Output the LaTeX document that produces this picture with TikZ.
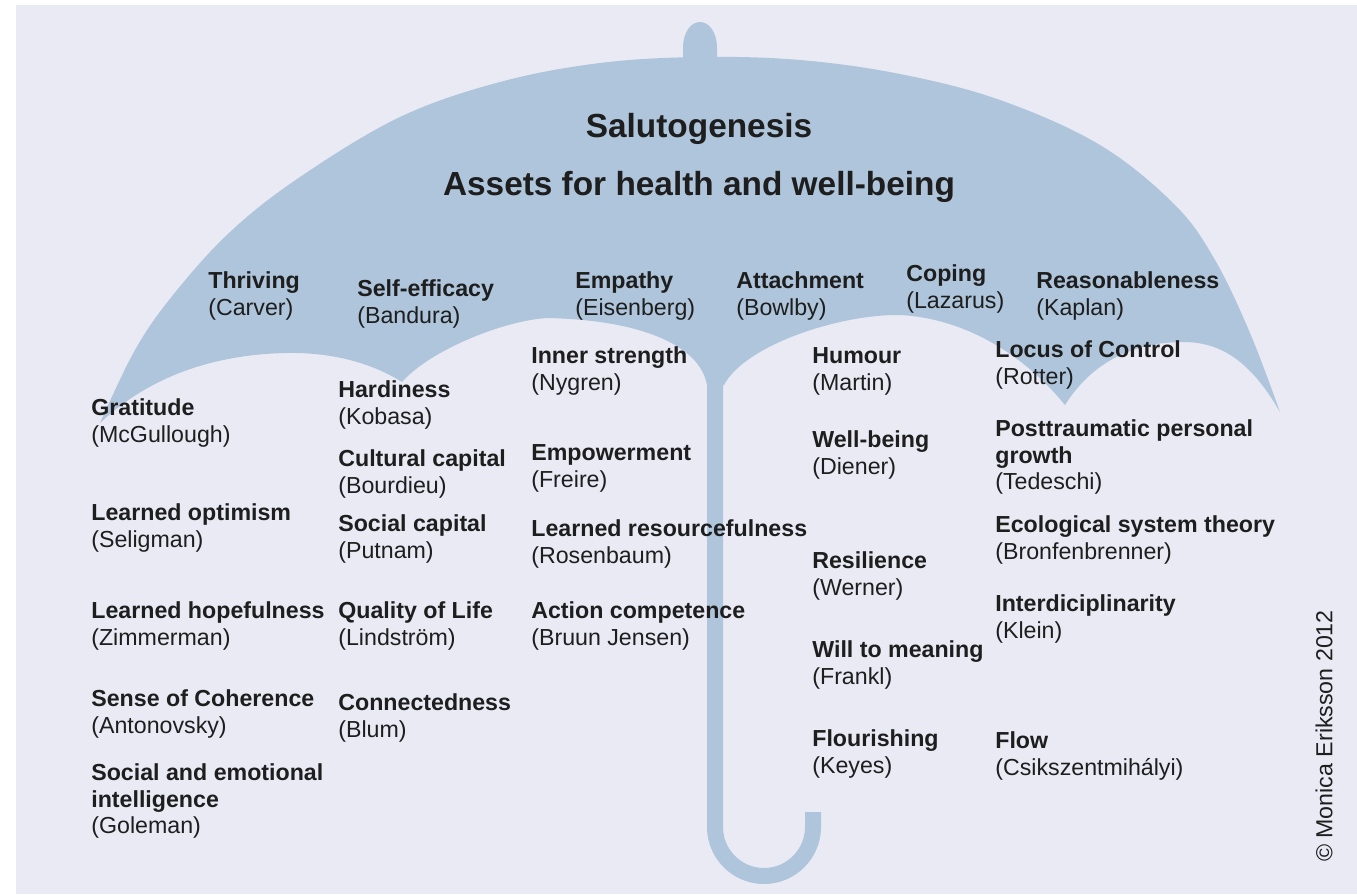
\documentclass[tikz,border=0pt]{standalone}
\usepackage{fontspec}
\setmainfont{Liberation Sans}
\usepackage{tikz}
\definecolor{backcol}{HTML}{E9EAF4}
\definecolor{umbcol}{HTML}{AEC5DB}
\definecolor{textcol}{HTML}{1E1E1E}

\begin{document}
\begin{tikzpicture}[x=0.02cm, y=-0.02cm,
    asset/.style={anchor=north west, inner sep=0pt, align=left, text=textcol,
      font=\fontsize{13.2}{15.3}\selectfont},
    title/.style={anchor=base, inner sep=0pt, text=textcol,
      font=\fontsize{19}{22}\selectfont\bfseries}]
    % Draw the background
    \useasboundingbox (0,0) rectangle (1357,894);
    \fill[backcol] (16,5) rectangle (1357,894);
    % Draw the canopy
    \fill[umbcol]
      plot[smooth, tension=0.6] coordinates {(100,423) (135,350) (173,295)
        (230,232) (300,177) (400,117) (500,82) (600,63) (700,57) (800,60)
        (900,74) (1000,100) (1100,145) (1175,205) (1215,260) (1250,333) (1280,412)}
      .. controls (1250,360) and (1220,342) .. (1183,342)
      .. controls (1130,342) and (1090,365) .. (1065,405)
      .. controls (1020,350) and (960,318) .. (900,315)
      .. controls (840,314) and (745,345) .. (724,385)
      -- (707,385)
      .. controls (700,345) and (640,320) .. (548,318)
      .. controls (505,320) and (430,350) .. (402,382)
      .. controls (370,362) and (330,352) .. (285,353)
      .. controls (200,355) and (140,385) .. (100,423) -- cycle;
    % Draw the tip on top
    \fill[umbcol] (683,64) -- (683,48) .. controls (683,32) and (691,22) .. (700,22)
      .. controls (709,22) and (717,32) .. (717,48) -- (717,64) -- cycle;
    % Draw the handle
    \draw[umbcol, line width=16*0.02cm] (715,330) -- (715,827)
      .. controls (715,854) and (737,876) .. (764,876)
      .. controls (791,876) and (813,854) .. (813,827) -- (813,812);
    % Titles
    \node[title] (salut) at (699,137) {Salutogenesis};
    \node[title] (assets) at (699,195) {Assets for health and well-being};
    % Assets under the canopy
    \node[asset] (thriving) at (208,271) {\textbf{Thriving}\\(Carver)};
    \node[asset] (selfeff) at (357,279) {\textbf{Self-efficacy}\\(Bandura)};
    \node[asset] (empathy) at (575,271) {\textbf{Empathy}\\(Eisenberg)};
    \node[asset] (attach) at (736,271) {\textbf{Attachment}\\(Bowlby)};
    \node[asset] (coping) at (906,264) {\textbf{Coping}\\(Lazarus)};
    \node[asset] (reason) at (1036,271) {\textbf{Reasonableness}\\(Kaplan)};
    % First column
    \node[asset] (gratitude) at (91,398) {\textbf{Gratitude}\\(McGullough)};
    \node[asset] (optimism) at (91,503) {\textbf{Learned optimism}\\(Seligman)};
    \node[asset] (hopeful) at (91,601) {\textbf{Learned hopefulness}\\(Zimmerman)};
    \node[asset] (soc) at (91,689) {\textbf{Sense of Coherence}\\(Antonovsky)};
    \node[asset] (emotional) at (91,763) {\textbf{Social and emotional}\\\textbf{intelligence}\\(Goleman)};
    % Second column
    \node[asset] (hardiness) at (338,380) {\textbf{Hardiness}\\(Kobasa)};
    \node[asset] (cultural) at (338,449) {\textbf{Cultural capital}\\(Bourdieu)};
    \node[asset] (social) at (338,514) {\textbf{Social capital}\\(Putnam)};
    \node[asset] (quality) at (338,601) {\textbf{Quality of Life}\\(Lindström)};
    \node[asset] (connected) at (338,693) {\textbf{Connectedness}\\(Blum)};
    % Third column
    \node[asset] (inner) at (531,346) {\textbf{Inner strength}\\(Nygren)};
    \node[asset] (empower) at (531,444) {\textbf{Empowerment}\\(Freire)};
    \node[asset] (resource) at (531,519) {\textbf{Learned resourcefulness}\\(Rosenbaum)};
    \node[asset] (action) at (531,601) {\textbf{Action competence}\\(Bruun Jensen)};
    % Fourth column
    \node[asset] (humour) at (812,347) {\textbf{Humour}\\(Martin)};
    \node[asset] (wellbeing) at (812,430) {\textbf{Well-being}\\(Diener)};
    \node[asset] (resilience) at (812,551) {\textbf{Resilience}\\(Werner)};
    \node[asset] (meaning) at (812,640) {\textbf{Will to meaning}\\(Frankl)};
    \node[asset] (flourish) at (812,729) {\textbf{Flourishing}\\(Keyes)};
    % Fifth column
    \node[asset] (locus) at (995,340) {\textbf{Locus of Control}\\(Rotter)};
    \node[asset] (posttrauma) at (995,419) {\textbf{Posttraumatic personal}\\\textbf{growth}\\(Tedeschi)};
    \node[asset] (ecological) at (995,515) {\textbf{Ecological system theory}\\(Bronfenbrenner)};
    \node[asset] (interdisc) at (995,594) {\textbf{Interdiciplinarity}\\(Klein)};
    \node[asset] (flow) at (995,731) {\textbf{Flow}\\(Csikszentmihályi)};
    % Copyright
    \node[rotate=90, inner sep=0pt, text=textcol, font=\fontsize{13.2}{15.3}\selectfont]
      (copy) at (1324,736) {© Monica Eriksson 2012};
\end{tikzpicture}
\end{document}
